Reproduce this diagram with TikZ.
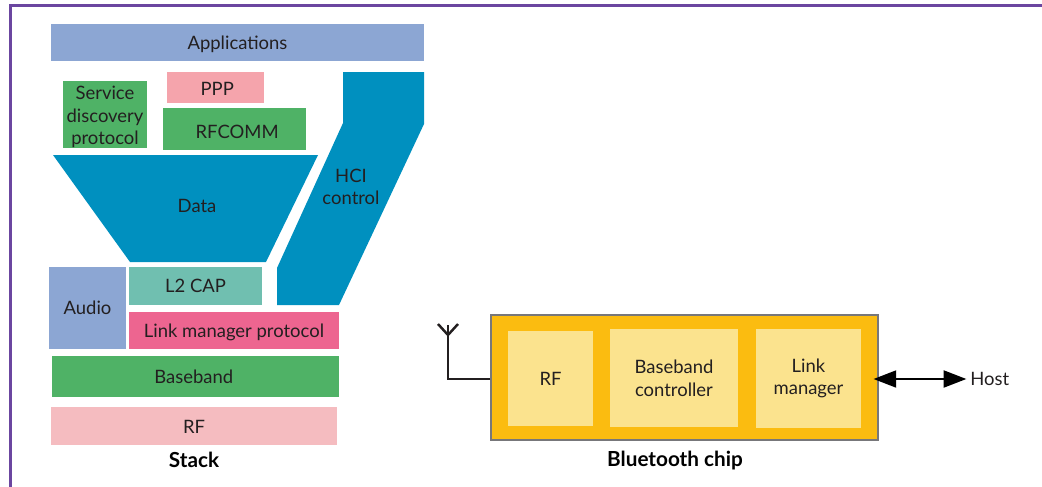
\documentclass[tikz,border=0pt]{standalone}
\usepackage{xcolor}
\usepackage{fontspec}
\setmainfont{Lato}
\usetikzlibrary{arrows.meta}
\definecolor{mor}{HTML}{6B46A0}
\definecolor{acikMavi}{HTML}{8CA6D3}
\definecolor{petrolMavi}{HTML}{0090BF}
\definecolor{yesil}{HTML}{4FB266}
\definecolor{pembe}{HTML}{F5A4AC}
\definecolor{turkuaz}{HTML}{70BFB0}
\definecolor{koyuPembe}{HTML}{ED6590}
\definecolor{acikPembe}{HTML}{F5BCC0}
\definecolor{sari}{HTML}{FBBC10}
\definecolor{acikSari}{HTML}{FBE38E}
\definecolor{ortaGri}{HTML}{77777A}
\definecolor{yazi}{HTML}{231F20}
\tikzset{
  kutu/.style={inner sep=0pt,text=yazi,align=center,font=\fontsize{10.5}{12.9}\selectfont},
  baslik/.style={inner sep=0pt,text=black,font=\fontsize{11.8}{14}\selectfont\bfseries},
}
\begin{document}
\begin{tikzpicture}[x=0.02cm,y=-0.02cm]
\useasboundingbox (0,0) rectangle (1042,487);
\draw[mor,line width=1.7pt] (10.5,487)--(10.5,5.5)--(1042,5.5);
% stack
\node[kutu,fill=acikMavi,minimum width=7.46cm,minimum height=0.74cm,text height=9.5pt] (apps) at (237.5,42.5) {Applications};
\node[kutu,fill=pembe,minimum width=1.94cm,minimum height=0.62cm,text height=9pt] (ppp) at (215.5,87.5) {\hspace*{2pt}PPP};
\node[kutu,fill=yesil,minimum width=1.68cm,minimum height=1.34cm] (sdp) at (105,114.5) {\rule{0pt}{10.5pt}Service\\discovery\\protocol};
\node[kutu,fill=yesil,minimum width=2.86cm,minimum height=0.84cm,text height=11pt] (rfcomm) at (234.5,129) {\hspace*{3pt}RFCOMM};
\fill[petrolMavi] (53,155)--(318,155)--(266,262)--(130,262)--cycle;
\node[kutu] (data) at (197,206) {Data};
\fill[petrolMavi] (343,72)--(424,72)--(424,124)--(339,305)--(277,305)--(277,268)--(343,123)--cycle;
\node[kutu] (hci) at (351,187) {HCI\\control};
\node[kutu,fill=turkuaz,minimum width=2.66cm,minimum height=0.76cm] (l2cap) at (195.5,286) {L2 CAP};
\node[kutu,fill=acikMavi,minimum width=1.54cm,minimum height=1.64cm] (audio) at (87.5,308) {Audio};
\node[kutu,fill=koyuPembe,minimum width=4.2cm,minimum height=0.74cm,text height=10pt] (lmp) at (234,330.5) {Link manager protocol};
\node[kutu,fill=yesil,minimum width=5.74cm,minimum height=0.82cm] (baseband) at (195.5,376.5) {Baseband\hspace*{2pt}};
\node[kutu,fill=acikPembe,minimum width=5.72cm,minimum height=0.76cm,text height=9pt] (rf) at (194,426) {RF};
\node[baslik] (stack) at (194,460) {Stack};
% chip
\node[draw=ortaGri,line width=0.8pt,fill=sari,minimum width=7.74cm,minimum height=2.5cm] (chip) at (684.5,377.5) {};
\node[kutu,fill=acikSari,minimum width=1.7cm,minimum height=1.9cm] (chiprf) at (550.5,378.5) {RF};
\node[kutu,fill=acikSari,minimum width=2.56cm,minimum height=1.96cm] (controller) at (674,378) {Baseband\\controller};
\node[kutu,fill=acikSari,minimum width=2.1cm,minimum height=2cm] (manager) at (808.5,378.5) {Link\\manager};
\node[baslik] (chiptitle) at (675,461) {Bluetooth chip};
\node[kutu,anchor=west] (host) at (970,379) {Host};
% anten
\coordinate (antenTaban) at (448,379);
\coordinate (antenKok) at (448,335);
\coordinate (antenUst) at (448,325);
\coordinate (antenSol) at (438,324);
\coordinate (antenSag) at (458,324);
\draw[yazi,line width=1.4pt] (chip.west |- antenTaban)--(antenTaban)--(antenUst);
\draw[yazi,line width=1.4pt] (antenSol)--(antenKok)--(antenSag);
\draw[black,line width=1.7pt,shorten <=-3pt,shorten >=2pt,{Triangle[length=13pt,width=9.5pt]}-{Triangle[length=13pt,width=9.5pt]}] (chip.east |- host.west)--(host.west);
\end{tikzpicture}
\end{document}
